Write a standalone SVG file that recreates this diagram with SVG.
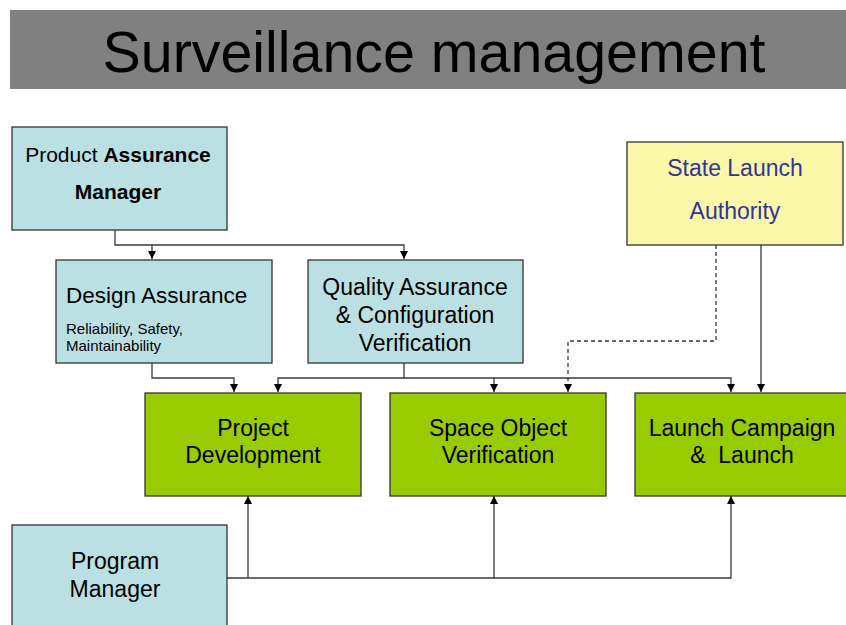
<svg xmlns="http://www.w3.org/2000/svg" width="846" height="625" viewBox="0 0 846 625">
  <style>
    text { font-family: "Liberation Sans", Arial, sans-serif; fill: #000; }
    .box { stroke: #333; stroke-width: 1.3; }
    .cyan { fill: #BBE0E3; }
    .green { fill: #99CC00; }
    .yellow { fill: #F8F8A8; }
    .lbl { font-size: 23px; text-anchor: middle; }
    .small { font-size: 15px; }
    .blue { fill: #333399; }
    .wire { fill: none; stroke: #3a3a3a; stroke-width: 1.3; }
    .dash { stroke-dasharray: 4 3; }
  </style>
  <defs>
    <marker id="arrow" markerUnits="userSpaceOnUse" markerWidth="8" markerHeight="8" refX="8" refY="4" orient="auto">
      <path d="M0,0 L8,4 L0,8 z" fill="#000"/>
    </marker>
  </defs>

  <rect width="846" height="625" fill="#fff"/>

  <!-- title bar -->
  <g id="title">
    <rect x="10" y="10" width="836" height="79" fill="#808080"/>
    <text x="434" y="72" font-size="58" text-anchor="middle" textLength="663" lengthAdjust="spacingAndGlyphs">Surveillance management</text>
  </g>

  <!-- connectors -->
  <g id="connectors">
    <path class="wire" d="M115,230 V245 H404 V259" marker-end="url(#arrow)"/>
    <path class="wire" d="M152,245 V259" marker-end="url(#arrow)"/>
    <path class="wire" d="M152,363 V378 H234 V392" marker-end="url(#arrow)"/>
    <path class="wire" d="M404,363 V378 H278 V392" marker-end="url(#arrow)"/>
    <path class="wire" d="M404,378 H731 V392" marker-end="url(#arrow)"/>
    <path class="wire" d="M494,378 V392" marker-end="url(#arrow)"/>
    <path class="wire dash" d="M716,245 V341 H568 V392" marker-end="url(#arrow)"/>
    <path class="wire" d="M761,245 V392" marker-end="url(#arrow)"/>
    <path class="wire" d="M227,578 H731 V496" marker-end="url(#arrow)"/>
    <path class="wire" d="M248,578 V496" marker-end="url(#arrow)"/>
    <path class="wire" d="M494,578 V496" marker-end="url(#arrow)"/>
  </g>

  <g id="product-assurance-manager">
    <rect class="box cyan" x="12" y="127" width="215" height="103"/>
    <text x="118" y="162" font-size="21" text-anchor="middle">Product <tspan font-weight="bold">Assurance</tspan></text>
    <text x="118" y="199" font-size="21" text-anchor="middle" font-weight="bold">Manager</text>
  </g>

  <g id="design-assurance">
    <rect class="box cyan" x="56" y="260" width="216" height="103"/>
    <text x="66" y="303" font-size="22.5">Design Assurance</text>
    <text class="small" x="66" y="334">Reliability, Safety,</text>
    <text class="small" x="66" y="351">Maintainability</text>
  </g>

  <g id="quality-assurance">
    <rect class="box cyan" x="308" y="260" width="215" height="103"/>
    <text class="lbl" x="415" y="295">Quality Assurance</text>
    <text class="lbl" x="415" y="323">&amp; Configuration</text>
    <text class="lbl" x="415" y="351">Verification</text>
  </g>

  <g id="state-launch-authority">
    <rect class="box yellow" x="627" y="142" width="216" height="103"/>
    <text class="lbl blue" x="735" y="176">State Launch</text>
    <text class="lbl blue" x="735" y="219">Authority</text>
  </g>

  <g id="project-development">
    <rect class="box green" x="145" y="393" width="216" height="103"/>
    <text class="lbl" x="253" y="436">Project</text>
    <text class="lbl" x="253" y="463">Development</text>
  </g>

  <g id="space-object-verification">
    <rect class="box green" x="390" y="393" width="216" height="103"/>
    <text class="lbl" x="498" y="436">Space Object</text>
    <text class="lbl" x="498" y="463">Verification</text>
  </g>

  <g id="launch-campaign">
    <rect class="box green" x="635" y="393" width="216" height="103"/>
    <text class="lbl" x="742" y="436">Launch Campaign</text>
    <text class="lbl" x="742" y="463" xml:space="preserve">&amp;  Launch</text>
  </g>

  <g id="program-manager">
    <rect class="box cyan" x="12" y="525" width="215" height="105"/>
    <text class="lbl" x="115" y="569">Program</text>
    <text class="lbl" x="115" y="597">Manager</text>
  </g>
</svg>
